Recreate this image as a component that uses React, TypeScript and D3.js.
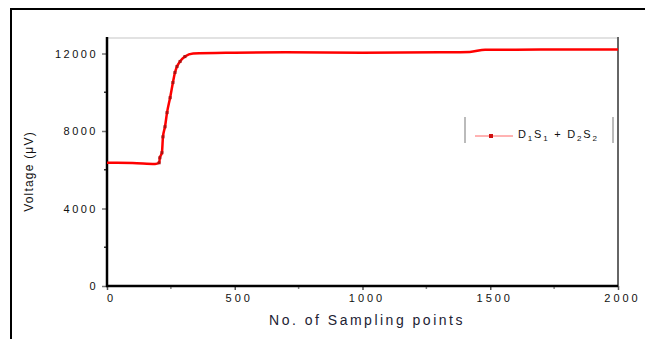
import React, { useEffect, useRef } from "react";
import * as d3 from "d3";

const samples = [0, 100, 188, 204, 207, 215, 219, 227, 235, 247, 258, 266, 274, 286, 305, 337, 500, 700, 1000, 1300, 1420, 1480, 1600, 1800, 2000];
const values = [6360, 6350, 6300, 6360, 6620, 6880, 7700, 8220, 8950, 9720, 10500, 11020, 11330, 11590, 11840, 12000, 12040, 12060, 12040, 12060, 12080, 12200, 12200, 12210, 12210];

const yTicks = [0, 4000, 8000, 12000];
const yMinor = [2000, 6000, 10000];
const xTicks = [0, 500, 1000, 1500, 2000];
const xMinor = [250, 750, 1250, 1750];
const seriesName = ["D", "1", "S", "1", " + D", "2", "S", "2"];

const App: React.FC = () => {
  const svgRef = useRef<SVGSVGElement | null>(null);

  useEffect(() => {
    const width = 645;
    const height = 339;
    const marginLeft = 107;
    const marginRight = 27;
    const marginTop = 38;
    const marginBottom = 53;

    const x = d3.scaleLinear().domain([0, 2000]).range([marginLeft, width - marginRight]);
    const y = d3.scaleLinear().domain([0, 12800]).range([height - marginBottom, marginTop]);

    const svg = d3
      .select(svgRef.current)
      .attr("width", width)
      .attr("height", height)
      .attr("viewBox", [0, 0, width, height])
      .style("font-family", "Arial, 'Liberation Sans', sans-serif");
    svg.selectAll("*").remove();

    svg.append("rect").attr("width", width).attr("height", height).attr("fill", "#fff");

    // outer frame
    svg.append("line").attr("x1", 11).attr("x2", width).attr("y1", 9).attr("y2", 9).attr("stroke", "#000").attr("stroke-width", 2);
    svg.append("line").attr("x1", 11).attr("x2", 11).attr("y1", 8).attr("y2", height).attr("stroke", "#000").attr("stroke-width", 2);

    // plot box top / right
    svg.append("line").attr("x1", marginLeft).attr("x2", x(2000)).attr("y1", y(12800)).attr("y2", y(12800)).attr("stroke", "#e2e2e2").attr("stroke-width", 2);
    svg.append("line").attr("x1", x(2000)).attr("x2", x(2000)).attr("y1", y(12800) - 1).attr("y2", y(0)).attr("stroke", "#666").attr("stroke-width", 2);

    // y axis
    const gy = svg.append("g").attr("transform", `translate(${marginLeft},0)`);
    gy.call(d3.axisLeft(y).tickValues(yTicks).tickSize(5).tickFormat(d3.format("d")));
    gy.select(".domain").remove();
    gy.selectAll(".tick line").attr("stroke", "#777").attr("stroke-width", 1.5);
    gy.selectAll("text").attr("font-size", 11).attr("letter-spacing", 2.5).attr("fill", "#111").attr("x", -9);
    gy.selectAll(".minor")
      .data(yMinor)
      .join("line")
      .attr("x1", -3)
      .attr("x2", 0)
      .attr("y1", (d) => y(d))
      .attr("y2", (d) => y(d))
      .attr("stroke", "#333")
      .attr("stroke-width", 1.5);

    // x axis
    const gx = svg.append("g").attr("transform", `translate(0,${y(0)})`);
    gx.call(d3.axisBottom(x).tickValues(xTicks).tickSize(4).tickFormat(d3.format("d")));
    gx.select(".domain").remove();
    gx.selectAll(".tick line").attr("stroke", "#555").attr("stroke-width", 1.5);
    gx.selectAll("text").attr("font-size", 11).attr("letter-spacing", 3).attr("fill", "#111").attr("y", 8).attr("dx", 4);
    gx.selectAll(".minor")
      .data(xMinor)
      .join("line")
      .attr("x1", (d) => x(d))
      .attr("x2", (d) => x(d))
      .attr("y1", 0)
      .attr("y2", 3)
      .attr("stroke", "#888")
      .attr("stroke-width", 1.5);

    // axis lines
    svg.append("line").attr("x1", marginLeft).attr("x2", marginLeft).attr("y1", y(12800) - 1).attr("y2", y(0) + 1).attr("stroke", "#000").attr("stroke-width", 2.5);
    svg.append("line").attr("x1", marginLeft - 1).attr("x2", x(2000)).attr("y1", y(0)).attr("y2", y(0)).attr("stroke", "#000").attr("stroke-width", 2.5);

    // series
    const pts = samples.map((s, i) => [s, values[i]] as [number, number]);
    const line = d3
      .line<[number, number]>()
      .x((d) => x(d[0]))
      .y((d) => y(d[1]))
      .curve(d3.curveMonotoneX);
    svg.append("path").datum(pts).attr("d", line).attr("fill", "none").attr("stroke", "#ff0000").attr("stroke-width", 2.5);
    svg
      .append("g")
      .selectAll("rect")
      .data(pts.filter((d) => d[0] > 200 && d[0] < 320))
      .join("rect")
      .attr("x", (d) => x(d[0]) - 1.5)
      .attr("y", (d) => y(d[1]) - 1.5)
      .attr("width", 3)
      .attr("height", 3)
      .attr("fill", "#b01010");

    // legend
    const lg = svg.append("g").attr("transform", "translate(465,117)");
    lg.append("line").attr("x1", 0).attr("x2", 0).attr("y1", 0).attr("y2", 26).attr("stroke", "#bbb").attr("stroke-width", 2);
    lg.append("line").attr("x1", 148).attr("x2", 148).attr("y1", 0).attr("y2", 26).attr("stroke", "#bbb").attr("stroke-width", 2);
    lg.append("line").attr("x1", 10).attr("x2", 48).attr("y1", 19).attr("y2", 19).attr("stroke", "#ff6666").attr("stroke-width", 1);
    lg.append("rect").attr("x", 24).attr("y", 17).attr("width", 4).attr("height", 4).attr("fill", "#d01010");
    const lt = lg.append("text").attr("x", 53).attr("y", 21).attr("font-size", 11).attr("letter-spacing", 1.8).attr("fill", "#111");
    seriesName.forEach((t, i) => {
      const sub = i % 2 === 1;
      lt.append("tspan")
        .attr("font-size", sub ? 8 : 11)
        .attr("dy", i === 0 ? 0 : sub ? 3 : -3)
        .text(t);
    });

    // axis titles
    svg
      .append("text")
      .attr("x", 367)
      .attr("y", 325)
      .attr("text-anchor", "middle")
      .attr("font-size", 14)
      .attr("letter-spacing", 2.5)
      .attr("fill", "#223")
      .text("No. of Sampling points");
    svg
      .append("text")
      .attr("transform", `translate(33,${(125 + 218) / 2}) rotate(-90)`)
      .attr("text-anchor", "middle")
      .attr("font-size", 12)
      .attr("letter-spacing", 1.2)
      .attr("fill", "#111")
      .text("Voltage (μV)");
  }, []);

  return (
    <div style={{ position: "absolute", left: 0, top: 0 }}>
      <svg ref={svgRef} style={{ display: "block" }}></svg>
    </div>
  );
};

export default App;
